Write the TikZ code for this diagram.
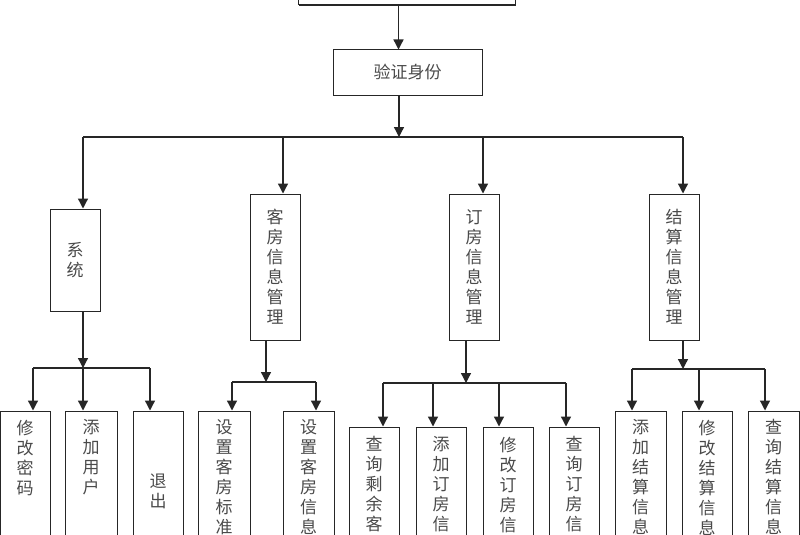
\documentclass[tikz,border=0pt]{standalone}
\usepackage{fontspec}
\newfontfamily\cjk{Noto Sans CJK SC}
\usetikzlibrary{arrows.meta,shadows}
\definecolor{lc}{HTML}{262626}
\definecolor{tc}{HTML}{4A4A4A}
\begin{document}
\begin{tikzpicture}[x=1pt,y=-1pt,
  box/.style={draw=lc, line width=1pt, fill=white, inner sep=0pt,
    drop shadow={shadow xshift=1.3pt, shadow yshift=-1.3pt, opacity=1, fill=lc}},
  txt/.style={text=tc, font=\cjk\fontsize{17}{20}\selectfont, align=center, inner sep=0pt},
  wire/.style={draw=lc, line width=1.3pt},
  arr/.style={draw=lc, line width=1.3pt, -{Triangle[width=10pt,length=10pt]}}]
\path[use as bounding box, clip] (0,0) rectangle (800,535);
\fill[white] (0,0) rectangle (800,535);
% level 0/1
\node[box, minimum width=217pt, minimum height=35pt] (top) at (406.5,-12.5) {};
\node[box, txt, minimum width=149pt, minimum height=45pt] (v) at (407.5,72.5) {验证身份};
% level 2
\node[box, txt, minimum width=50pt, minimum height=102pt] (s1) at (75,260) {系\\统};
\node[box, txt, minimum width=50pt, minimum height=146pt] (s2) at (275,267) {客\\房\\信\\息\\管\\理};
\node[box, txt, minimum width=50pt, minimum height=146pt] (s3) at (474,267) {订\\房\\信\\息\\管\\理};
\node[box, txt, minimum width=50pt, minimum height=146pt] (s4) at (674,267) {结\\算\\信\\息\\管\\理};
% level 3 boxes
\node[box, minimum width=50pt, minimum height=149pt] (a1) at (25,485.5) {};
\node[box, minimum width=52pt, minimum height=149pt] (a2) at (91,485.5) {};
\node[box, minimum width=50pt, minimum height=149pt] (a3) at (158,485.5) {};
\node[box, minimum width=52pt, minimum height=149pt] (b1) at (224,485.5) {};
\node[box, minimum width=51pt, minimum height=149pt] (b2) at (308.5,485.5) {};
\node[box, minimum width=50pt, minimum height=133pt] (c1) at (374,493.5) {};
\node[box, minimum width=50pt, minimum height=133pt] (c2) at (441,493.5) {};
\node[box, minimum width=50pt, minimum height=133pt] (c3) at (508,493.5) {};
\node[box, minimum width=50pt, minimum height=133pt] (c4) at (574,493.5) {};
\node[box, minimum width=51pt, minimum height=149pt] (d1) at (640.5,485.5) {};
\node[box, minimum width=50pt, minimum height=149pt] (d2) at (707,485.5) {};
\node[box, minimum width=51pt, minimum height=149pt] (d3) at (773.5,485.5) {};
% level 3 texts
\node[txt, anchor=north] (ta1) at ([yshift=-9pt]a1.north) {修\\改\\密\\码};
\node[txt, anchor=north] (ta2) at ([yshift=-9pt]a2.north) {添\\加\\用\\户};
\node[txt] (ta3) at (158,491) {退\\出};
\node[txt, anchor=north] (tb1) at ([yshift=-9pt]b1.north) {设\\置\\客\\房\\标\\准};
\node[txt, anchor=north] (tb2) at ([yshift=-9pt]b2.north) {设\\置\\客\\房\\信\\息};
\node[txt, anchor=north] (tc1) at ([yshift=-10pt]c1.north) {查\\询\\剩\\余\\客\\房};
\node[txt, anchor=north] (tc2) at ([yshift=-10pt]c2.north) {添\\加\\订\\房\\信\\息};
\node[txt, anchor=north] (tc3) at ([yshift=-10pt]c3.north) {修\\改\\订\\房\\信\\息};
\node[txt, anchor=north] (tc4) at ([yshift=-10pt]c4.north) {查\\询\\订\\房\\信\\息};
\node[txt, anchor=north] (td1) at ([yshift=-9pt]d1.north) {添\\加\\结\\算\\信\\息};
\node[txt, anchor=north] (td2) at ([yshift=-9pt]d2.north) {修\\改\\结\\算\\信\\息};
\node[txt, anchor=north] (td3) at ([yshift=-9pt]d3.north) {查\\询\\结\\算\\信\\息};
% connectors level 0-2
\coordinate (j0) at (399,137);
\draw[arr] ([xshift=-8pt]top.south) -- ([xshift=-8pt]top.south |- v.north);
\draw[arr] ([xshift=-8.5pt]v.south) -- (j0);
\draw[wire] ([xshift=8pt]s1.north |- j0) -- ([xshift=9pt]s4.north |- j0);
\draw[arr] ([xshift=8pt]s1.north |- j0) -- ([xshift=8pt]s1.north);
\draw[arr] ([xshift=8pt]s2.north |- j0) -- ([xshift=8pt]s2.north);
\draw[arr] ([xshift=9pt]s3.north |- j0) -- ([xshift=9pt]s3.north);
\draw[arr] ([xshift=9pt]s4.north |- j0) -- ([xshift=9pt]s4.north);
% group 1
\coordinate (j1) at (83,368);
\draw[arr] ([xshift=8pt]s1.south) -- (j1);
\draw[wire] ([xshift=8pt]a1.north |- j1) -- ([xshift=-8pt]a3.north |- j1);
\draw[arr] ([xshift=8pt]a1.north |- j1) -- ([xshift=8pt]a1.north);
\draw[arr] ([xshift=-8pt]a2.north |- j1) -- ([xshift=-8pt]a2.north);
\draw[arr] ([xshift=-8pt]a3.north |- j1) -- ([xshift=-8pt]a3.north);
% group 2
\coordinate (j2) at (266,382);
\draw[arr] ([xshift=-9pt]s2.south) -- (j2);
\draw[wire] ([xshift=8pt]b1.north |- j2) -- ([xshift=7.5pt]b2.north |- j2);
\draw[arr] ([xshift=8pt]b1.north |- j2) -- ([xshift=8pt]b1.north);
\draw[arr] ([xshift=7.5pt]b2.north |- j2) -- ([xshift=7.5pt]b2.north);
% group 3
\coordinate (j3) at (466,383);
\draw[arr] ([xshift=-8pt]s3.south) -- (j3);
\draw[wire] ([xshift=9pt]c1.north |- j3) -- ([xshift=-8pt]c4.north |- j3);
\draw[arr] ([xshift=9pt]c1.north |- j3) -- ([xshift=9pt]c1.north);
\draw[arr] ([xshift=-8pt]c2.north |- j3) -- ([xshift=-8pt]c2.north);
\draw[arr] ([xshift=-9pt]c3.north |- j3) -- ([xshift=-9pt]c3.north);
\draw[arr] ([xshift=-8pt]c4.north |- j3) -- ([xshift=-8pt]c4.north);
% group 4
\coordinate (j4) at (683,369);
\draw[arr] ([xshift=9pt]s4.south) -- (j4);
\draw[wire] ([xshift=-8.5pt]d1.north |- j4) -- ([xshift=-8.5pt]d3.north |- j4);
\draw[arr] ([xshift=-8.5pt]d1.north |- j4) -- ([xshift=-8.5pt]d1.north);
\draw[arr] ([xshift=-8pt]d2.north |- j4) -- ([xshift=-8pt]d2.north);
\draw[arr] ([xshift=-8.5pt]d3.north |- j4) -- ([xshift=-8.5pt]d3.north);
\end{tikzpicture}
\end{document}
